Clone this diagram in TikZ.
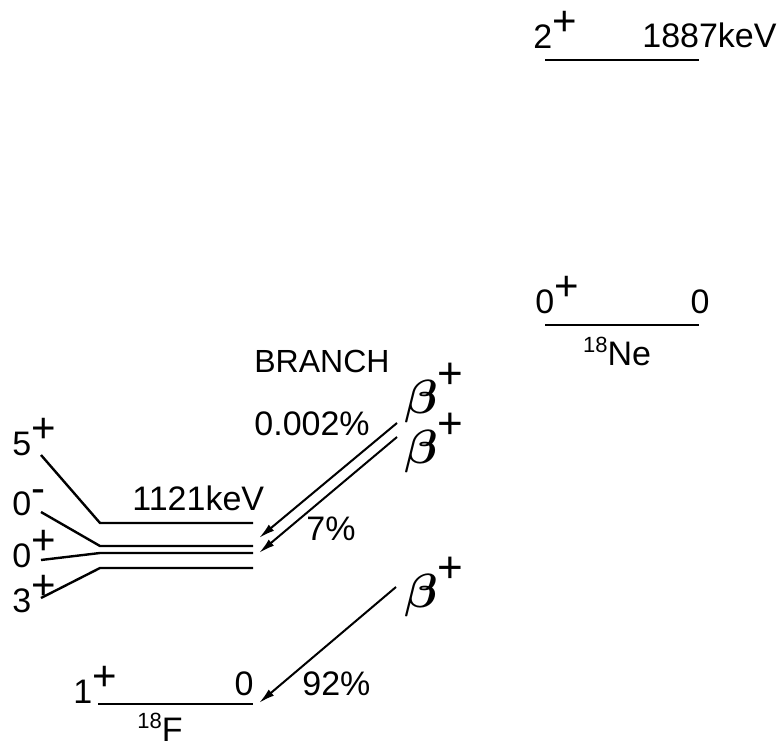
\documentclass[tikz,border=0pt]{standalone}
\usepackage{fix-cm}
\usepackage{fontspec}
\setmainfont{Liberation Sans}
\usetikzlibrary{arrows.meta,positioning}
\newcommand{\spin}[2]{#1\raisebox{6.5pt}{\fontsize{21}{21}\selectfont#2}}
\newcommand{\bplus}{{\fontsize{24}{24}\selectfont\boldmath$\beta$}\raisebox{12.5pt}{\fontsize{22}{22}\selectfont+}}

\begin{document}
\begin{tikzpicture}[x=0.5pt,y=-0.5pt,
  lvl/.style={line width=1.2pt},
  lbl/.style={font=\fontsize{17}{17}\selectfont, inner sep=0pt},
  decay/.style={line width=1pt, -{Latex[length=8pt,width=4pt]}},
]
\useasboundingbox (0,0) rectangle (782,749);

% 18Ne: ground state and 2+ level
\draw[lvl] (545,60) -- (699,60);
\node[lbl, anchor=base west] (ne2) at (533,49) {\spin{2}{+}};
\node[lbl, anchor=base east] (ne2e) at (777,48) {1887keV};
\draw[lvl] (545,325) -- (699,325);
\node[lbl, anchor=base west] (ne0) at (535,313) {\spin{0}{+}};
\node[lbl, anchor=base east] (ne0e) at (710,313) {0};
\node[lbl, anchor=base] (nename) at (617,365) {{\fontsize{11}{11}\selectfont\raisebox{6.5pt}{18}}Ne};

% 18F: quartet around 1121 keV  (name / slant start y / level y / label baseline / J / parity)
\foreach \n/\ya/\yb/\yt/\j/\p in {a/455/523/455/5/+, b/512/546/515/0/-, c/560/553/567/0/+, d/598/568/612/3/+} {
  \draw[lvl] (41,\ya) -- (100,\yb) -- (253,\yb);
  \node[lbl, anchor=base west] (f\n) at (12,\yt) {\spin{\j}{\p}};
}
\node[lbl, anchor=base west] (fe) at (132,510) {1121keV};

% 18F ground state
\draw[lvl] (98,704) -- (253,704);
\node[lbl, anchor=base west] (f1) at (73,703) {\spin{1}{+}};
\node[lbl, anchor=base east] (f1e) at (254,695) {0};
\node[lbl, anchor=base] (fname) at (160,741) {{\fontsize{11}{11}\selectfont\raisebox{6.5pt}{18}}F};

% beta+ branches
\node[lbl, anchor=base west] (br) at (254,372) {\fontsize{16}{16}\selectfont BRANCH};
\node[lbl, anchor=base west] (b1) at (404,413) {\bplus};
\node[lbl, anchor=base west] (b2) at (404,463) {\bplus};
\node[lbl, anchor=base west] (b3) at (404,607) {\bplus};
\node[lbl, anchor=base west] (p1) at (254,435) {0.002\%};
\node[lbl, anchor=base west] (p2) at (306,540) {7\%};
\node[lbl, anchor=base west] (p3) at (302,695) {92\%};

\coordinate (s1) at (397,423);
\coordinate (e1) at (259,538);
\coordinate (s2) at (397,437);
\coordinate (e2) at (259,553);
\coordinate (s3) at (396,587);
\coordinate (e3) at (259,703);
\draw[decay] (s1) -- (e1);
\draw[decay] (s2) -- (e2);
\draw[decay] (s3) -- (e3);
\end{tikzpicture}
\end{document}
